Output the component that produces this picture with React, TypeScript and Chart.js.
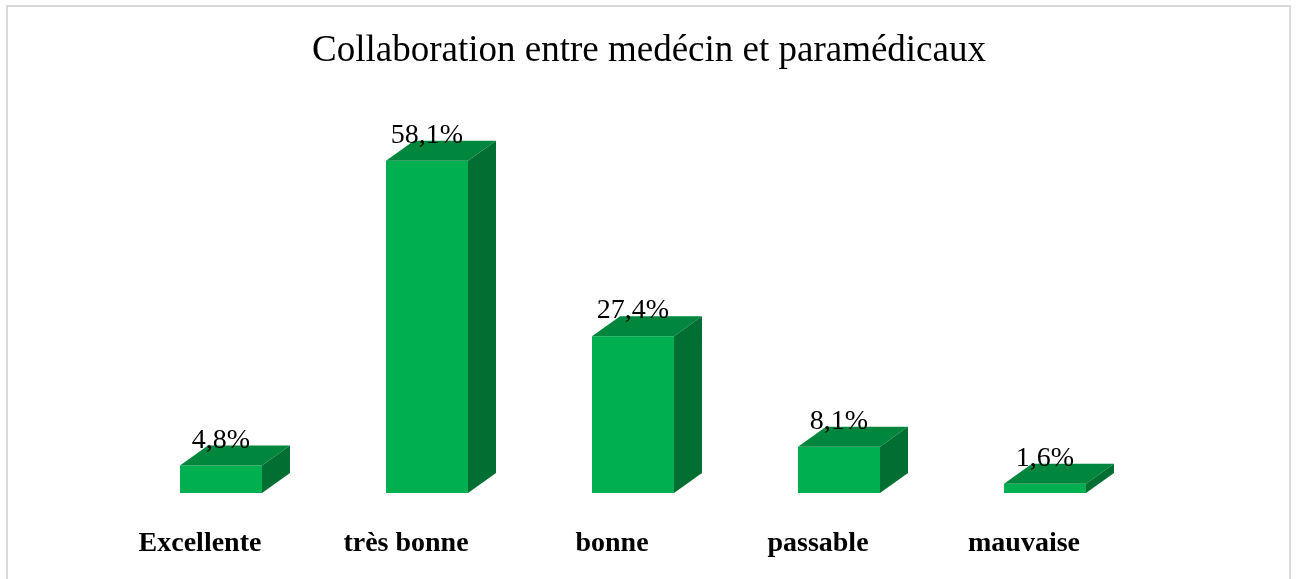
import React, { useEffect, useRef } from "react";
import { Chart, registerables } from "chart.js";

Chart.register(...registerables);

const categories = ["Excellente", "très bonne", "bonne", "passable", "mauvaise"];
const values = [4.8, 58.1, 27.4, 8.1, 1.6];
const valueLabels = ["4,8%", "58,1%", "27,4%", "8,1%", "1,6%"];
const chartTitle = "Collaboration entre medécin et paramédicaux";

const FRONT = "#00B050";
const TOP = "#00863D";
const SIDE = "#006F31";
const DX = 28;
const DY = 20;
const SERIF = "'Liberation Serif', 'Times New Roman', serif";

const threeD = {
  id: "threeD",
  beforeDraw(chart: any) {
    const ctx = chart.ctx;
    ctx.save();
    ctx.fillStyle = "#000";
    ctx.font = `37px ${SERIF}`;
    ctx.textAlign = "center";
    ctx.textBaseline = "middle";
    ctx.fillText(chartTitle, 649, 51);
    ctx.restore();
  },
  afterDatasetsDraw(chart: any) {
    const ctx = chart.ctx;
    const meta = chart.getDatasetMeta(0);
    meta.data.forEach((bar: any, i: number) => {
      const { x, y, base, width } = bar.getProps(["x", "y", "base", "width"], true);
      const l = x - width / 2;
      const r = x + width / 2;
      ctx.save();
      ctx.fillStyle = TOP;
      ctx.beginPath();
      ctx.moveTo(l, y);
      ctx.lineTo(l + DX, y - DY);
      ctx.lineTo(r + DX, y - DY);
      ctx.lineTo(r, y);
      ctx.closePath();
      ctx.fill();
      ctx.fillStyle = SIDE;
      ctx.beginPath();
      ctx.moveTo(r, y);
      ctx.lineTo(r + DX, y - DY);
      ctx.lineTo(r + DX, base - DY);
      ctx.lineTo(r, base);
      ctx.closePath();
      ctx.fill();
      ctx.fillStyle = "#000";
      ctx.font = `28px ${SERIF}`;
      ctx.textAlign = "center";
      ctx.textBaseline = "alphabetic";
      ctx.fillText(valueLabels[i], x, y - DY + 2);
      ctx.restore();
    });
  },
};

export default function App() {
  const ref = useRef<HTMLCanvasElement>(null);
  useEffect(() => {
    if (!ref.current) return;
    const chart = new Chart(ref.current, {
      type: "bar",
      data: {
        labels: categories,
        datasets: [
          {
            data: values,
            backgroundColor: FRONT,
            borderWidth: 0,
            barPercentage: 1,
            categoryPercentage: 0.398,
          },
        ],
      },
      options: {
        responsive: false,
        animation: false,
        devicePixelRatio: 1,
        layout: { padding: { left: 118, right: 150, top: 92.6, bottom: 45.4 } },
        plugins: {
          legend: { display: false },
          title: { display: false },
          tooltip: { enabled: false },
        },
        scales: {
          x: {
            grid: { display: false, drawTicks: false },
            border: { display: false },
            ticks: {
              color: "#000",
              font: { family: SERIF, size: 28, weight: "bold" },
              padding: 34,
              labelOffset: -21,
              maxRotation: 0,
              autoSkip: false,
            },
          },
          y: {
            display: false,
            min: 0,
            max: 70,
          },
        },
      },
      plugins: [threeD],
    } as any);
    return () => chart.destroy();
  }, []);
  return (
    <div style={{ position: "fixed", left: 0, top: 0, width: 1298, height: 579, overflow: "hidden", background: "#fff" }}>
      <div
        style={{
          position: "absolute",
          left: 6,
          top: 5,
          width: 1285,
          height: 700,
          border: "2px solid #d9d9d9",
          boxSizing: "border-box",
        }}
      />
      <canvas ref={ref} width={1298} height={640} style={{ position: "absolute", left: 0, top: 0, display: "block" }} />
    </div>
  );
}
